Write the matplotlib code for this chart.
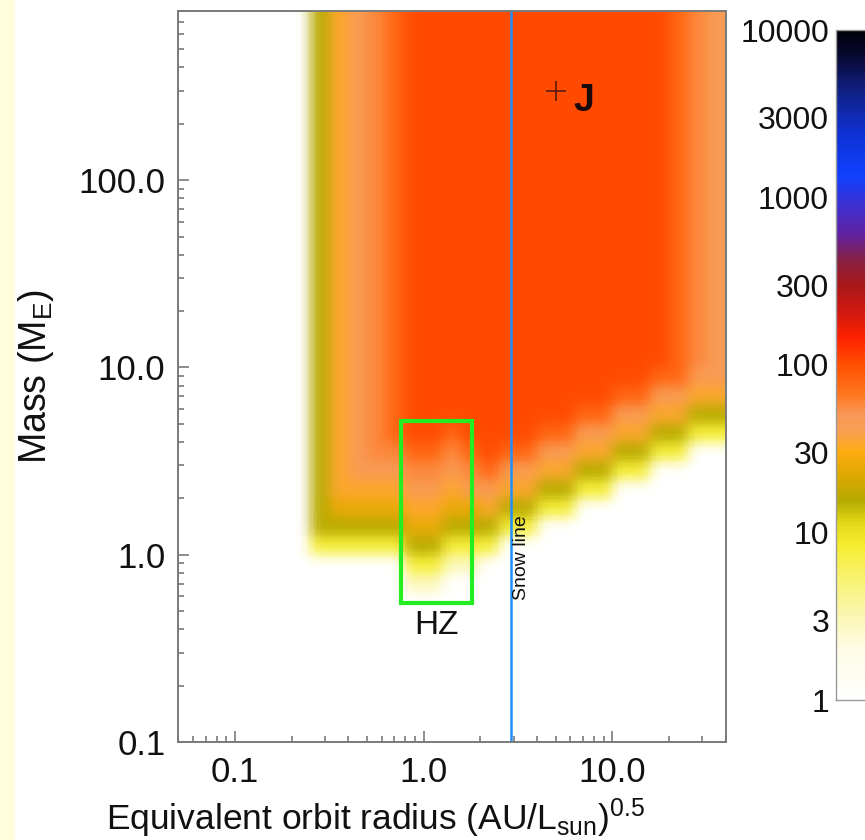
import numpy as np
import matplotlib
matplotlib.use("Agg")
import matplotlib.pyplot as plt
from matplotlib.colors import LinearSegmentedColormap, LogNorm
from matplotlib.cm import ScalarMappable
from matplotlib.patches import Rectangle
from matplotlib.ticker import FixedLocator, FixedFormatter, LogLocator, NullFormatter, NullLocator

plt.rcParams['font.family'] = ['Liberation Sans', 'DejaVu Sans']
plt.rcParams['mathtext.fontset'] = 'custom'
plt.rcParams['mathtext.rm'] = 'Liberation Sans'
plt.rcParams['mathtext.it'] = 'Liberation Sans:italic'

# ---- data -----------------------------------------------------------------
# Binning of the occurrence grid (log10 units, 0.1 dex bins)
log_a_start, log_a_step = -1.3, 0.1     # equivalent orbit radius
log_m_start, log_m_step = -1.0, 0.1     # planet mass (Earth masses)

# Each digit is an index into level_values (number per bin)
level_values = [1, 3, 8, 16, 25, 34, 46, 58, 80, 105]

# Rows listed from the most massive bin (top) down to 0.1 M_E (bottom)
density_rows = [
    "00000003567899999999999999876",  # 2.9 - 3.0
    "00000003567899999999999999876",
    "00000003567899999999999999876",
    "00000003567899999999999999876",
    "00000003567899999999999999876",
    "00000003567899999999999999876",
    "00000003567899999999999999876",
    "00000003567899999999999999876",
    "00000003567899999999999999876",
    "00000003567899999999999999876",
    "00000003567899999999999999876",
    "00000003567899999999999999876",
    "00000003567899999999999999876",
    "00000003567899999999999999876",
    "00000003567899999999999999876",
    "00000003567899999999999999876",
    "00000003567899999999999999876",
    "00000003567899999999999999876",
    "00000003567899999999999999876",
    "00000003567899999999999999876",  # 1.0 - 1.1
    "00000003567899999999999998866",  # 0.9 - 1.0
    "00000003567899999999999886655",  # 0.8 - 0.9
    "00000003567899999999988665533",  # 0.7 - 0.8
    "00000003567899899998866553322",  # 0.6 - 0.7
    "00000003567788789886655332200",  # 0.5 - 0.6
    "00000003566677678665533220000",  # 0.4 - 0.5
    "00000003555566566553322000000",  # 0.3 - 0.4
    "00000003444455445332200000000",  # 0.2 - 0.3
    "00000003333344333220000000000",  # 0.1 - 0.2
    "00000002222233222000000000000",  # 0.0 - 0.1
    "00000000000022110000000000000",  # -0.1 - 0.0
    "00000000000011000000000000000",  # -0.2 - -0.1
    "00000000000000000000000000000",
    "00000000000000000000000000000",
    "00000000000000000000000000000",
    "00000000000000000000000000000",
    "00000000000000000000000000000",
    "00000000000000000000000000000",
    "00000000000000000000000000000",
    "00000000000000000000000000000",  # -1.0 - -0.9
]

# Colour scale: (log10 value, colour)
cmap_nodes = [
    (0.00, "#FFFFFF"), (0.30, "#FEFCE6"), (0.48, "#FBF7B8"), (0.75, "#F8F268"),
    (0.92, "#F6EE30"), (1.05, "#E4DA18"), (1.19, "#B4AA00"), (1.32, "#D8A800"),
    (1.48, "#FFAC10"), (1.60, "#F8A050"), (1.70, "#F89858"), (1.82, "#FF7820"),
    (2.00, "#FF5000"), (2.16, "#FF2200"), (2.32, "#D01810"), (2.48, "#A81818"),
    (2.62, "#882040"), (2.78, "#6020A0"), (2.95, "#4030D0"), (3.13, "#1040FF"),
    (3.40, "#1030D0"), (3.65, "#102080"), (3.85, "#080830"), (4.00, "#000008"),
]
cbar_ticks = [1, 3, 10, 30, 100, 300, 1000, 3000, 10000]

x_ticks = [0.1, 1.0, 10.0]
x_tick_labels = ["0.1", "1.0", "10.0"]
y_ticks = [0.1, 1.0, 10.0, 100.0]
y_tick_labels = ["0.1", "1.0", "10.0", "100.0"]

snow_line_au = 2.9
hz_radius = [0.76, 1.8]
hz_mass = [0.55, 5.2]
jupiter = (5.0, 300.0)

# ---- colour map -----------------------------------------------------------
cmap = LinearSegmentedColormap.from_list(
    "occurrence", [(v / 4.0, c) for v, c in cmap_nodes], N=512)
norm = LogNorm(vmin=1, vmax=1e4)

codes = np.array([[int(ch) for ch in row] for row in density_rows[::-1]])
values = np.asarray(level_values, dtype=float)[codes]
ny, nx = values.shape
rgb = cmap(norm(values))[..., :3]

# Render each bin as a block of sub-cells and soften the block edges
sub = 8
fine = np.repeat(np.repeat(rgb, sub, axis=0), sub, axis=1)


def soften(img, sigma):
    r = int(3 * sigma) + 1
    k = np.exp(-0.5 * (np.arange(-r, r + 1) / sigma) ** 2)
    k /= k.sum()
    padded = np.pad(img, ((r, r), (r, r), (0, 0)), mode="edge")
    n0, n1 = img.shape[:2]
    tmp = sum(w * padded[i:i + n0, :, :] for i, w in enumerate(k))
    out = sum(w * tmp[:, i:i + n1, :] for i, w in enumerate(k))
    return np.clip(out, 0, 1)


fine = soften(fine, 2.8)

x_edges = 10 ** (log_a_start + np.arange(nx * sub + 1) * log_a_step / sub)
y_edges = 10 ** (log_m_start + np.arange(ny * sub + 1) * log_m_step / sub)

# ---- figure ---------------------------------------------------------------
fig = plt.figure(figsize=(8.65, 8.40), dpi=100)
fig.patches.append(Rectangle((0, 0), 15 / 865, 1, transform=fig.transFigure,
                             facecolor="#FFFDDC", edgecolor="none", zorder=-1))

ax = fig.add_axes([178 / 865, 1 - 742 / 840, 548 / 865, 731 / 840])
ax.set_xscale("log")
ax.set_yscale("log")

mesh = ax.pcolormesh(x_edges, y_edges, np.zeros((ny * sub, nx * sub)),
                     shading="flat", antialiased=False, edgecolors="none",
                     rasterized=True)
mesh.set_array(None)
mesh.set_facecolor(fine.reshape(-1, 3))

ax.set_xlim(0.05, 40)
ax.set_ylim(0.1, 800)

# Snow line
ax.axvline(snow_line_au, color="#1E8FFF", lw=1.8, zorder=3)
ax.annotate("Snow line", xy=(snow_line_au, 0.575), xytext=(1.5, 0),
            textcoords="offset points", rotation=90, ha="left", va="bottom",
            fontsize=14, color="#111111", zorder=4)

# Habitable zone box
ax.add_patch(Rectangle((hz_radius[0], hz_mass[0]), hz_radius[1] - hz_radius[0],
                       hz_mass[1] - hz_mass[0], fill=False, edgecolor="#22EE22",
                       lw=3, zorder=4))
ax.annotate("HZ", xy=(np.sqrt(hz_radius[0] * hz_radius[1]), hz_mass[0]),
            xytext=(0, -5), textcoords="offset points", ha="center", va="top",
            fontsize=24, color="#111111", zorder=4)

# Jupiter
ax.plot([jupiter[0]], [jupiter[1]], marker="+", ms=14, mew=1.2,
        color="#5A1A0A", zorder=5)
ax.annotate("J", xy=jupiter, xytext=(13, -7), textcoords="offset points",
            ha="left", va="center", fontsize=27, fontweight="bold",
            color="#1A0A0A", zorder=5)

# Axes styling
ax.xaxis.set_major_locator(FixedLocator(x_ticks))
ax.xaxis.set_major_formatter(FixedFormatter(x_tick_labels))
ax.yaxis.set_major_locator(FixedLocator(y_ticks))
ax.yaxis.set_major_formatter(FixedFormatter(y_tick_labels))
for axis in (ax.xaxis, ax.yaxis):
    axis.set_minor_locator(LogLocator(base=10, subs=np.arange(2, 10)))
    axis.set_minor_formatter(NullFormatter())

ax.tick_params(which="both", direction="in", top=False, right=False,
               color="#707070", width=1.1, labelcolor="#111111", labelsize=25)
ax.tick_params(which="major", length=8)
ax.tick_params(which="minor", length=4)
ax.tick_params(axis="x", which="major", pad=10)
ax.tick_params(axis="y", which="major", pad=9)
for sp in ax.spines.values():
    sp.set_color("#7A7A7A")
    sp.set_linewidth(1.4)
    sp.set_zorder(6)

ax.set_xlabel(r"Equivalent orbit radius (AU/L$_{\mathrm{sun}}$)$^{0.5}$",
              fontsize=25.5, color="#111111")
ax.xaxis.set_label_coords(0.36, -(796 - 742) / 731)
ax.set_ylabel(r"Mass (M$_{\mathrm{E}}$)", fontsize=27, color="#111111")
ax.yaxis.set_label_coords(-0.222, 0.5)

# Colour bar
cax = fig.add_axes([836 / 865, 1 - 700 / 840, 50 / 865, 670 / 840])
sm = ScalarMappable(norm=norm, cmap=cmap)
cbar = fig.colorbar(sm, cax=cax)
cax.yaxis.set_ticks_position("left")
cax.yaxis.set_major_locator(FixedLocator(cbar_ticks))
cax.yaxis.set_major_formatter(FixedFormatter([str(t) for t in cbar_ticks]))
cax.yaxis.set_minor_locator(NullLocator())
cax.tick_params(length=0, pad=5, labelsize=23, labelcolor="#111111")
cbar.outline.set_edgecolor("#9A9A9A")
cbar.outline.set_linewidth(1.0)

fig.savefig("out.png", dpi=100)
